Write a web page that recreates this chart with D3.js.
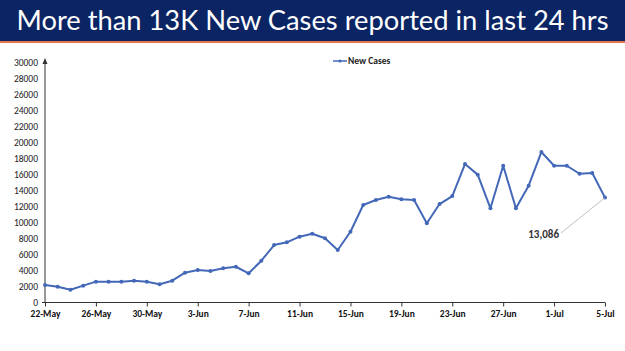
<!DOCTYPE html>
<html>
<head>
<meta charset="utf-8">
<script src="https://cdn.jsdelivr.net/npm/d3@7"></script>
<style>
html,body{margin:0;padding:0;background:#fff;}
svg{display:block;}
</style>
</head>
<body>
<script>
const titleText = "More than 13K New Cases reported in last 24 hrs";
const seriesName = "New Cases";
const categories = [
"2020-05-22","2020-05-23","2020-05-24","2020-05-25","2020-05-26","2020-05-27","2020-05-28","2020-05-29","2020-05-30","2020-05-31",
"2020-06-01","2020-06-02","2020-06-03","2020-06-04","2020-06-05","2020-06-06","2020-06-07","2020-06-08","2020-06-09","2020-06-10",
"2020-06-11","2020-06-12","2020-06-13","2020-06-14","2020-06-15","2020-06-16","2020-06-17","2020-06-18","2020-06-19","2020-06-20",
"2020-06-21","2020-06-22","2020-06-23","2020-06-24","2020-06-25","2020-06-26","2020-06-27","2020-06-28","2020-06-29","2020-06-30",
"2020-07-01","2020-07-02","2020-07-03","2020-07-04","2020-07-05"];
const newCases = [
2180,1970,1600,2100,2600,2600,2600,2720,2600,2270,
2720,3720,4050,3930,4270,4460,3640,5210,7170,7510,
8210,8580,8010,6550,8830,12160,12780,13190,12870,12780,
9880,12280,13280,17270,15950,11750,17060,11750,14570,18770,
17060,17060,16060,16150,13086];
const xTickDates = ["2020-05-22","2020-05-26","2020-05-30","2020-06-03","2020-06-07","2020-06-11","2020-06-15","2020-06-19","2020-06-23","2020-06-27","2020-07-01","2020-07-05"];
const xTickLabels = ["22-May","26-May","30-May","3-Jun","7-Jun","11-Jun","15-Jun","19-Jun","23-Jun","27-Jun","1-Jul","5-Jul"];
const yTicks = [0,2000,4000,6000,8000,10000,12000,14000,16000,18000,20000,22000,24000,26000,28000,30000];
const annotationLabel = "13,086";

const W = 625, H = 351;
const parse = d3.utcParse("%Y-%m-%d");
const data = categories.map((c,i)=>({date:parse(c), value:newCases[i]}));

const svg = d3.select("body").append("svg").attr("width",W).attr("height",H);

// Title banner
svg.append("rect").attr("x",0).attr("y",0).attr("width",W).attr("height",41).attr("fill","#0b2463");
svg.append("rect").attr("x",0).attr("y",41).attr("width",W).attr("height",2).attr("fill","#e8744c");
svg.append("text").attr("x",W/2).attr("y",30).attr("text-anchor","middle")
  .attr("fill","#fff").attr("font-family","Lato, 'Open Sans', sans-serif").attr("font-size",26)
  .attr("textLength",592).attr("lengthAdjust","spacingAndGlyphs")
  .text(titleText);

const x = d3.scaleUtc().domain([parse(categories[0]), parse(categories[categories.length-1])]).range([45,605]);
const y = d3.scaleLinear().domain([0,30000]).range([302.5,62]);

const font = "Carlito, Lato, 'Open Sans', sans-serif";

// Y axis
const yAxis = svg.append("g").attr("transform","translate(45,0)")
  .call(d3.axisLeft(y).tickValues(yTicks).tickSize(0).tickPadding(7).tickFormat(d3.format("d")));
yAxis.select(".domain").remove();
yAxis.selectAll("text").attr("font-family",font).attr("font-size",9.5).attr("fill","#222");
svg.append("line").attr("x1",45).attr("x2",45).attr("y1",y(0)).attr("y2",y(30000)+1).attr("stroke","#333").attr("stroke-width",1);
svg.append("path").attr("d",`M45,${y(30000)-4} L42.5,${y(30000)+2} L47.5,${y(30000)+2} Z`).attr("fill","#333");
svg.append("line").attr("x1",42).attr("x2",45).attr("y1",y(0)).attr("y2",y(0)).attr("stroke","#333");

// X axis
const xAxis = svg.append("g").attr("transform",`translate(0,${y(0)})`)
  .call(d3.axisBottom(x).tickValues(xTickDates.map(parse)).tickSize(4).tickPadding(4)
    .tickFormat((d,i)=>xTickLabels[i]));
xAxis.select(".domain").attr("stroke","#333").attr("d",`M45,0H${x.range()[1]}`);
xAxis.selectAll(".tick line").attr("stroke","#333");
xAxis.selectAll("text").attr("font-family",font).attr("font-size",9.5).attr("font-weight","bold").attr("fill","#111");

// Line
const lineColor = "#4468b8";
svg.append("path").datum(data).attr("fill","none").attr("stroke",lineColor).attr("stroke-width",2)
  .attr("stroke-linejoin","round")
  .attr("d",d3.line().x(d=>x(d.date)).y(d=>y(d.value)));
svg.append("g").selectAll("circle").data(data).join("circle")
  .attr("cx",d=>x(d.date)).attr("cy",d=>y(d.value)).attr("r",2).attr("fill",lineColor);

// Annotation
const last = data[data.length-1];
svg.append("line").attr("x1",561).attr("y1",233).attr("x2",x(last.date)).attr("y2",y(last.value))
  .attr("stroke","#b0b0b0").attr("stroke-width",0.8);
svg.append("text").attr("x",559).attr("y",237.5).attr("text-anchor","end")
  .attr("font-family",font).attr("font-size",11).attr("font-weight","bold").attr("fill","#333").text(annotationLabel);

// Legend
svg.append("line").attr("x1",333).attr("x2",347).attr("y1",61).attr("y2",61).attr("stroke",lineColor).attr("stroke-width",1.5);
svg.append("circle").attr("cx",340).attr("cy",61).attr("r",1.6).attr("fill",lineColor);
svg.append("text").attr("x",348).attr("y",64).attr("font-family",font).attr("font-size",9.5).attr("font-weight","bold").attr("fill","#222").text(seriesName);
</script>
</body>
</html>
